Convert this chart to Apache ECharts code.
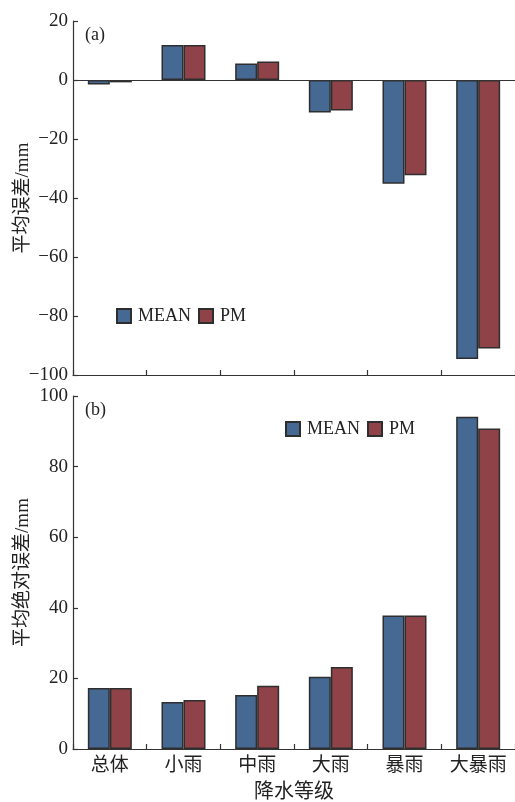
<!DOCTYPE html>
<html lang="zh">
<head>
    <meta charset="utf-8">
    <title>降水等级误差</title>
    <script src="https://cdn.jsdelivr.net/npm/echarts@6/dist/echarts.min.js"></script>
    <style>
        html, body { margin: 0; padding: 0; background: #fff; }
        #main { width: 515px; height: 802px; }
    </style>
</head>
<body>
    <div id="main"></div>
    <script>
        var categories = ['总体', '小雨', '中雨', '大雨', '暴雨', '大暴雨'];
        // (a) 平均误差
        var meanBias = [-1.5, 11.9, 5.6, -11.0, -35.2, -94.6];
        var pmBias = [-0.8, 11.9, 6.3, -10.3, -32.3, -91.0];
        // (b) 平均绝对误差
        var meanAbs = [17.3, 13.3, 15.3, 20.5, 37.8, 94.1];
        var pmAbs = [17.3, 13.9, 17.9, 23.2, 37.8, 90.8];

        var blue = '#466994';
        var red = '#8f4247';
        var edge = '#2e2e2e';
        var serif = 'Liberation Serif';
        var cjk = '"Liberation Serif", "Noto Sans CJK SC"';

        var chart = echarts.init(document.getElementById('main'));

        function minus(v) {
            return String(v).replace('-', '\u2212');
        }

        function barSeries(name, color, data, idx, withZero) {
            var s = {
                name: name,
                type: 'bar',
                xAxisIndex: idx,
                yAxisIndex: idx,
                data: data,
                barWidth: 22,
                barGap: '0%',
                itemStyle: { color: color, borderColor: edge, borderWidth: 1.5 },
                emphasis: { disabled: true }
            };
            if (withZero) {
                s.markLine = {
                    silent: true,
                    symbol: 'none',
                    label: { show: false },
                    lineStyle: { color: '#333', width: 1.2, type: 'solid' },
                    data: [{ yAxis: 0 }]
                };
            }
            return s;
        }

        var yCommon = {
            type: 'value',
            nameLocation: 'middle',
            nameGap: 40,
            nameMoveOverlap: false,
            nameTextStyle: { fontFamily: cjk, fontSize: 19, color: '#222' },
            axisLine: { show: true, lineStyle: { color: '#333', width: 1.2 } },
            axisTick: { show: true, inside: true, length: 5, lineStyle: { color: '#333', width: 1.2 } },
            axisLabel: { fontFamily: serif, fontSize: 19, color: '#222', margin: 5, formatter: minus },
            splitLine: { show: false }
        };

        var legendCommon = {
            data: ['MEAN', 'PM'],
            icon: 'rect',
            itemWidth: 14,
            itemHeight: 14,
            itemGap: 7,
            padding: 0,
            selectedMode: false,
            textStyle: { fontFamily: serif, fontSize: 18, color: '#222', padding: [0, 0, 0, 2] }
        };

        chart.setOption({
            animation: false,
            title: [
                { text: '(a)', left: 85, top: 26, padding: 0,
                  textStyle: { fontFamily: serif, fontSize: 18, fontWeight: 'normal', color: '#222' } },
                { text: '(b)', left: 85, top: 401, padding: 0,
                  textStyle: { fontFamily: serif, fontSize: 18, fontWeight: 'normal', color: '#222' } }
            ],
            legend: [
                Object.assign({ left: 116, top: 307 }, legendCommon),
                Object.assign({ left: 285, top: 420 }, legendCommon)
            ],
            grid: [
                { left: 73, right: 0, top: 21, height: 354, outerBoundsMode: 'none', containLabel: false },
                { left: 73, right: 0, top: 396, height: 353, outerBoundsMode: 'none', containLabel: false }
            ],
            xAxis: [
                {
                    type: 'category',
                    gridIndex: 0,
                    data: categories,
                    position: 'bottom',
                    axisLine: { onZero: false, lineStyle: { color: '#333', width: 1.2 } },
                    axisTick: { show: true, interval: 0, inside: true, length: 5, lineStyle: { color: '#333', width: 1.2 } },
                    axisLabel: { show: false, interval: 0 }
                },
                {
                    type: 'category',
                    gridIndex: 1,
                    data: categories,
                    name: '降水等级',
                    nameLocation: 'middle',
                    nameGap: 34,
                    nameMoveOverlap: false,
                    nameTextStyle: { fontFamily: cjk, fontSize: 20, color: '#222' },
                    axisLine: { lineStyle: { color: '#333', width: 1.2 } },
                    axisTick: { show: true, interval: 0, inside: true, length: 5, lineStyle: { color: '#333', width: 1.2 } },
                    axisLabel: { fontFamily: cjk, fontSize: 19, color: '#222', margin: 8, interval: 0 }
                }
            ],
            yAxis: [
                Object.assign({}, yCommon, { gridIndex: 0, min: -100, max: 20, interval: 20, name: '平均误差/mm' }),
                Object.assign({}, yCommon, { gridIndex: 1, min: 0, max: 100, interval: 20, name: '平均绝对误差/mm' })
            ],
            series: [
                barSeries('MEAN', blue, meanBias, 0, true),
                barSeries('PM', red, pmBias, 0, false),
                barSeries('MEAN', blue, meanAbs, 1, false),
                barSeries('PM', red, pmAbs, 1, false)
            ]
        });
        window.onresize = chart.resize;
    </script>
</body>
</html>
